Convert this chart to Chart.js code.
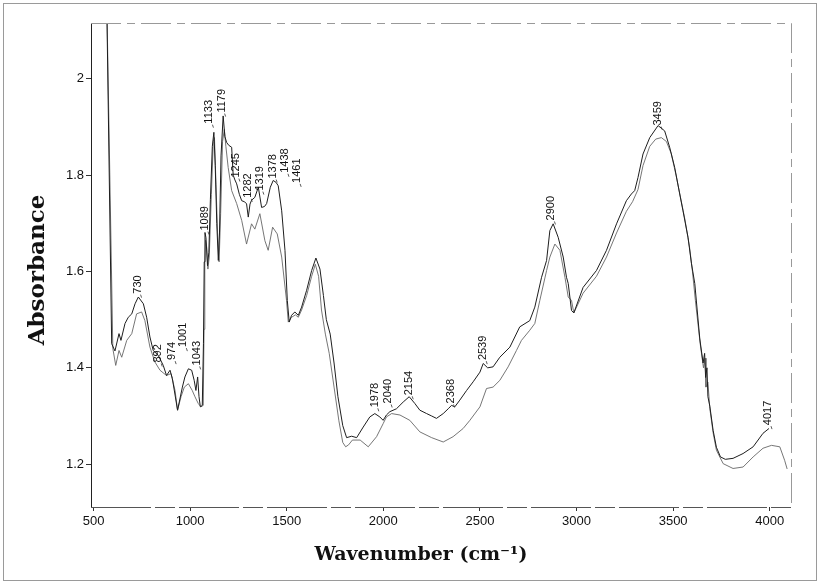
<!DOCTYPE html>
<html>
<head>
<meta charset="utf-8">
<title>Absorbance spectrum</title>
<script src="https://cdn.jsdelivr.net/npm/chart.js@4.4.1/dist/chart.umd.min.js"></script>
<style>
  html, body { margin: 0; padding: 0; background: #fff; }
  #box { width: 820px; height: 584px; }
</style>
</head>
<body>
<div id="box"><canvas id="spectrum" width="820" height="584"></canvas></div>
<script>
// spectrum A (upper trace, the one with the peak labels)
var wnA = [567, 594, 611, 632, 642, 663, 680, 698, 715, 732,
           758, 775, 792, 809, 835, 861, 878, 896, 908, 935,
           960, 973, 991, 1008, 1021, 1030, 1039, 1046, 1053, 1063,
           1069, 1073, 1077, 1082, 1090, 1097, 1105, 1115, 1123, 1130,
           1138, 1146, 1152, 1160, 1171, 1180, 1189, 1200, 1215, 1223,
           1232, 1241, 1255, 1267, 1280, 1292, 1301, 1310, 1318, 1335,
           1353, 1370, 1385, 1396, 1415, 1430, 1445, 1456, 1474, 1491,
           1503, 1513, 1525, 1542, 1560, 1577, 1603, 1629, 1651, 1672,
           1690, 1705, 1725, 1745, 1765, 1790, 1810, 1836, 1862, 1896,
           1930, 1956, 1982, 1999, 2016, 2034, 2068, 2103, 2134, 2163,
           2189, 2224, 2250, 2275, 2310, 2336, 2353, 2370, 2396, 2431,
           2465, 2500, 2517, 2540, 2568, 2603, 2655, 2706, 2758, 2784,
           2819, 2845, 2862, 2879, 2905, 2931, 2948, 2957, 2974, 2986,
           3034, 3103, 3155, 3207, 3258, 3284, 3301, 3318, 3344, 3379,
           3422, 3456, 3482, 3508, 3534, 3551, 3577, 3595, 3612, 3638,
           3655, 3663, 3668, 3675, 3680, 3690, 3707, 3724, 3745, 3770,
           3810, 3862, 3914, 3965, 3996];
var absA = [2.2, 1.45, 1.435, 1.471, 1.457, 1.492, 1.505, 1.512, 1.533, 1.547,
            1.533, 1.505, 1.464, 1.436, 1.426, 1.405, 1.384, 1.395, 1.378, 1.312,
            1.36, 1.381, 1.398, 1.395, 1.374, 1.353, 1.381, 1.34, 1.319, 1.322,
            1.45, 1.62, 1.681, 1.67, 1.612, 1.64, 1.75, 1.86, 1.889, 1.82,
            1.70, 1.623, 1.68, 1.84, 1.923, 1.88, 1.868, 1.862, 1.858, 1.80,
            1.79, 1.782, 1.76, 1.747, 1.745, 1.741, 1.713, 1.74, 1.748, 1.754,
            1.775, 1.733, 1.735, 1.741, 1.775, 1.789, 1.785, 1.778, 1.726, 1.644,
            1.54, 1.495, 1.509, 1.516, 1.509, 1.526, 1.561, 1.602, 1.628, 1.605,
            1.55, 1.50, 1.47, 1.41, 1.34, 1.28, 1.255, 1.258, 1.255, 1.277,
            1.298, 1.305, 1.298, 1.291, 1.302, 1.309, 1.315, 1.329, 1.34, 1.326,
            1.312, 1.305, 1.30, 1.295, 1.305, 1.315, 1.322, 1.319, 1.333, 1.353,
            1.371, 1.391, 1.409, 1.40, 1.402, 1.422, 1.443, 1.485, 1.498, 1.526,
            1.588, 1.623, 1.685, 1.699, 1.671, 1.630, 1.588, 1.575, 1.519, 1.514,
            1.567, 1.602, 1.644, 1.699, 1.747, 1.761, 1.768, 1.795, 1.844, 1.878,
            1.903, 1.892, 1.858, 1.816, 1.761, 1.726, 1.671, 1.616, 1.575, 1.46,
            1.41, 1.43, 1.38, 1.40, 1.34, 1.32, 1.27, 1.235, 1.215, 1.21,
            1.212, 1.222, 1.236, 1.264, 1.274];

// spectrum B (lower trace)
var wnB = [567, 600, 615, 632, 646, 672, 698, 723, 749, 766,
           792, 818, 844, 878, 901, 922, 935, 953, 970, 991,
           1011, 1025, 1042, 1056, 1068, 1072, 1076, 1080, 1086, 1092,
           1099, 1110, 1120, 1126, 1134, 1142, 1150, 1158, 1168, 1177,
           1185, 1197, 1215, 1241, 1267, 1292, 1318, 1335, 1361, 1387,
           1404, 1427, 1451, 1474, 1499, 1508, 1525, 1545, 1560, 1577,
           1603, 1629, 1648, 1665, 1680, 1700, 1720, 1745, 1770, 1790,
           1805, 1820, 1840, 1880, 1922, 1965, 1999, 2016, 2043, 2086,
           2137, 2189, 2250, 2310, 2361, 2413, 2448, 2500, 2534, 2568,
           2603, 2646, 2689, 2715, 2758, 2784, 2810, 2845, 2862, 2888,
           2914, 2940, 2957, 2974, 2986, 3034, 3103, 3155, 3207, 3258,
           3290, 3318, 3344, 3379, 3410, 3439, 3465, 3490, 3515, 3540,
           3560, 3585, 3600, 3615, 3640, 3657, 3665, 3670, 3680, 3690,
           3707, 3724, 3759, 3810, 3862, 3914, 3965, 4009, 4052, 4077,
           4090];
var absB = [2.2, 1.44, 1.405, 1.436, 1.422, 1.457, 1.471, 1.512, 1.516, 1.498,
            1.443, 1.412, 1.395, 1.384, 1.388, 1.353, 1.312, 1.34, 1.36, 1.367,
            1.353, 1.34, 1.326, 1.319, 1.322, 1.48, 1.62, 1.665, 1.65, 1.605,
            1.63, 1.76, 1.87, 1.878, 1.78, 1.68, 1.62, 1.72, 1.87, 1.895,
            1.86, 1.816, 1.768, 1.741, 1.706, 1.657, 1.699, 1.688, 1.72, 1.664,
            1.644, 1.692, 1.678, 1.63, 1.54, 1.495, 1.505, 1.51, 1.505, 1.52,
            1.55, 1.59, 1.615, 1.59, 1.52, 1.47, 1.43, 1.36, 1.29, 1.245,
            1.236, 1.24, 1.25, 1.25, 1.236, 1.257, 1.284, 1.298, 1.305, 1.302,
            1.291, 1.267, 1.255, 1.246, 1.257, 1.274, 1.291, 1.319, 1.357, 1.36,
            1.374, 1.402, 1.436, 1.457, 1.478, 1.492, 1.54, 1.602, 1.63, 1.657,
            1.644, 1.588, 1.547, 1.54, 1.514, 1.555, 1.59, 1.63, 1.68, 1.725,
            1.745, 1.77, 1.82, 1.86, 1.875, 1.878, 1.87, 1.845, 1.80, 1.75,
            1.71, 1.65, 1.60, 1.54, 1.45, 1.40, 1.42, 1.36, 1.37, 1.315,
            1.265, 1.229, 1.201, 1.191, 1.194, 1.215, 1.233, 1.239, 1.236, 1.208,
            1.19];

// peak annotations: text, where it sits on the wavenumber axis, absorbance at its foot
var peakText = ['730', '892', '974', '1001', '1043', '1089', '1133', '1179', '1245', '1282', '1319',
                '1378', '1438', '1461', '1978', '2040', '2154', '2368', '2539', '2900', '3459', '4017'];
var peakAt   = [728, 835, 907, 965, 1034, 1077, 1100, 1163, 1237, 1301, 1361,
                1430, 1491, 1554, 1956, 2025, 2134, 2348, 2517, 2870, 3422, 3991];
var peakFoot = [1.554, 1.411, 1.416, 1.443, 1.405, 1.685, 1.907, 1.93, 1.795, 1.753, 1.768,
                1.793, 1.805, 1.784, 1.318, 1.326, 1.343, 1.326, 1.416, 1.706, 1.903, 1.281];

var xTicks = [500, 1000, 1500, 2000, 2500, 3000, 3500, 4000];
var yTicks = [1.2, 1.4, 1.6, 1.8, 2];

var xTitle = 'Wavenumber (cm\u207B\u00B9)';
var yTitle = 'Absorbance';

var toPoints = function (xs, ys) {
    var pts = [];
    for (var i = 0; i < xs.length; i++) {
        pts.push({ x: xs[i], y: ys[i] });
    }
    return pts;
};

var tickFont = { family: '"Liberation Sans", Arial, sans-serif', size: 13 };

// white page, thin outer frame, plot box and the two axis titles
var framePlugin = {
    id: 'frame',
    beforeDraw: function (chart) {
        var ctx = chart.ctx;
        ctx.save();
        ctx.fillStyle = '#fff';
        ctx.fillRect(0, 0, chart.width, chart.height);
        ctx.strokeStyle = '#9a9a9a';
        ctx.lineWidth = 1;
        ctx.strokeRect(3.5, 3.5, 813, 577);
        ctx.restore();
    },
    afterDatasetsDraw: function (chart) {
        var ctx = chart.ctx, ca = chart.chartArea;
        ctx.save();
        ctx.lineWidth = 1;
        ctx.strokeStyle = '#222';
        ctx.beginPath();
        ctx.moveTo(ca.left + 0.5, ca.top);
        ctx.lineTo(ca.left + 0.5, ca.bottom + 0.5);
        ctx.stroke();
        ctx.strokeStyle = '#555';
        ctx.setLineDash([60, 4, 20, 4]);
        ctx.beginPath();
        ctx.moveTo(ca.left, ca.bottom + 0.5);
        ctx.lineTo(ca.right, ca.bottom + 0.5);
        ctx.stroke();
        ctx.strokeStyle = '#999';
        ctx.setLineDash([30, 6, 8, 6]);
        ctx.beginPath();
        ctx.moveTo(ca.left, ca.top + 0.5);
        ctx.lineTo(ca.right + 0.5, ca.top + 0.5);
        ctx.lineTo(ca.right + 0.5, ca.bottom);
        ctx.stroke();
        ctx.setLineDash([]);

        // axis titles
        ctx.fillStyle = '#111';
        ctx.textAlign = 'center';
        ctx.textBaseline = 'middle';
        ctx.font = 'bold 19px "DejaVu Serif", serif';
        ctx.fillText(xTitle, 421, 555);
        ctx.save();
        ctx.translate(38, 270);
        ctx.rotate(-Math.PI / 2);
        ctx.font = 'bold 23px "DejaVu Serif", serif';
        ctx.fillText(yTitle, 0, 0);
        ctx.restore();
        ctx.restore();
    }
};

// rotated peak numbers with a little leader
var peakPlugin = {
    id: 'peaks',
    afterDatasetsDraw: function (chart) {
        var ctx = chart.ctx, xs = chart.scales.x, ys = chart.scales.y;
        ctx.save();
        ctx.font = '11px "Liberation Sans", Arial, sans-serif';
        ctx.fillStyle = '#111';
        ctx.strokeStyle = '#333';
        ctx.lineWidth = 0.8;
        for (var i = 0; i < peakText.length; i++) {
            var px = xs.getPixelForValue(peakAt[i]);
            var py = ys.getPixelForValue(peakFoot[i]);
            ctx.beginPath();
            ctx.moveTo(px + 3, py + 1);
            ctx.lineTo(px + 4, py + 4);
            ctx.stroke();
            ctx.save();
            ctx.translate(px, py);
            ctx.rotate(-Math.PI / 2);
            ctx.textAlign = 'left';
            ctx.textBaseline = 'middle';
            ctx.fillText(peakText[i], 0, 0);
            ctx.restore();
        }
        ctx.restore();
    }
};

var chart = new Chart(document.getElementById('spectrum'), {
    type: 'line',
    data: {
        datasets: [
            {
                label: 'A',
                data: toPoints(wnA, absA),
                borderColor: '#1e1e1e',
                borderWidth: 1,
                pointRadius: 0,
                tension: 0
            },
            {
                label: 'B',
                data: toPoints(wnB, absB),
                borderColor: '#666',
                borderWidth: 0.9,
                pointRadius: 0,
                tension: 0
            }
        ]
    },
    options: {
        responsive: false,
        animation: false,
        layout: { padding: { left: 26, right: 29, top: 23, bottom: 16 } },
        plugins: {
            legend: { display: false },
            tooltip: { enabled: false }
        },
        scales: {
            x: {
                type: 'linear',
                min: 487,
                max: 4110,
                afterFit: function (scale) { scale.height = 61; },
                afterBuildTicks: function (scale) {
                    scale.ticks = xTicks.map(function (v) { return { value: v }; });
                },
                ticks: {
                    autoSkip: false,
                    maxRotation: 0,
                    padding: 3,
                    color: '#111',
                    font: tickFont,
                    callback: function (v) { return String(v); }
                },
                grid: { drawOnChartArea: false, tickLength: 4, color: '#333' },
                border: { display: false }
            },
            y: {
                min: 1.111,
                max: 2.116,
                afterFit: function (scale) { scale.width = 65; },
                afterBuildTicks: function (scale) {
                    scale.ticks = yTicks.map(function (v) { return { value: v }; });
                },
                ticks: {
                    padding: 2,
                    color: '#111',
                    font: tickFont,
                    callback: function (v) { return String(v); }
                },
                grid: { drawOnChartArea: false, tickLength: 5, color: '#333' },
                border: { display: false }
            }
        }
    },
    plugins: [framePlugin, peakPlugin]
});
</script>
</body>
</html>
